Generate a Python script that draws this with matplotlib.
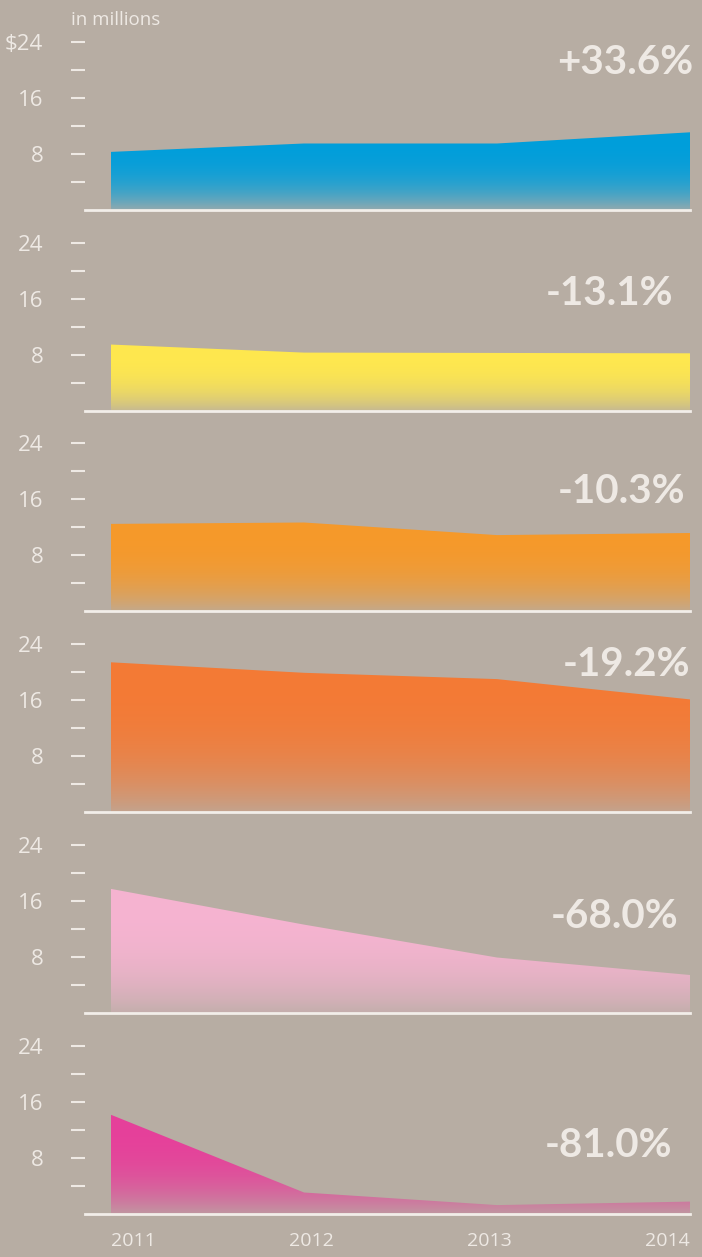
import numpy as np
import matplotlib
matplotlib.use("Agg")
from matplotlib import pyplot as plt
from matplotlib.patches import Polygon
from matplotlib.colors import to_rgb

# data (in millions)
years = [2011, 2012, 2013, 2014]
series_values = [
    [8.3, 9.5, 9.5, 11.1],
    [9.45, 8.3, 8.25, 8.2],
    [12.5, 12.7, 10.9, 11.2],
    [21.4, 19.9, 19.0, 16.1],
    [17.7, 12.6, 7.9, 5.4],
    [14.1, 3.0, 1.2, 1.7],
]
changes = ["+33.6%", "-13.1%", "-10.3%", "-19.2%", "-68.0%", "-81.0%"]
colors = ["#009edb", "#ffe84e", "#f6992a", "#f47a35", "#f6b4d1", "#e6409a"]
ytick_vals = [4, 8, 12, 16, 20, 24]

BG = "#b7ada3"
LIGHT = "#eee9e4"

W, H = 702, 1257
fig = plt.figure(figsize=(W / 100, H / 100), dpi=100, facecolor=BG)

# layout in pixels
left_px, right_px = 85, 690
first_base, step = 210, 200.7
panel_h = 200
ymax = panel_h / 7.0
# where the % labels sit (value, right edge px)
label_y = [21.0, 16.7, 17.1, 21.1, 13.7, 9.7]
label_right = [693, 673, 685, 690, 678, 672]

bg_rgb = np.array(to_rgb(BG))

for i, (vals, col) in enumerate(zip(series_values, colors)):
    base = first_base + i * step
    ax = fig.add_axes([left_px / W, 1 - base / H, (right_px - left_px) / W, panel_h / H])
    ax.patch.set_alpha(0)
    for s in ax.spines.values():
        s.set_visible(False)

    # gradient fill clipped to the area
    vtop = max(vals)
    n = 200
    frac = np.linspace(1, 0, n)  # top row -> bottom row
    t = 0.8 * (1 - frac) ** 3
    c = np.array(to_rgb(col))
    rows = (1 - t)[:, None] * c[None, :] + t[:, None] * bg_rgb[None, :]
    img = np.repeat(rows[:, None, :], 2, axis=1)
    im = ax.imshow(img, extent=[years[0], years[-1], 0, vtop], aspect="auto",
                   interpolation="bilinear", zorder=2)
    verts = [(years[0], 0)] + list(zip(years, vals)) + [(years[-1], 0)]
    poly = Polygon(verts, closed=True, facecolor="none", edgecolor="none")
    ax.add_patch(poly)
    im.set_clip_path(poly)
    ax.set_xlim(2011 - 26 / 193.0, 2014)
    ax.set_ylim(0, ymax)

    ax.axhline(0, color="#f2eee9", lw=2, zorder=3, clip_on=False)

    ax.set_xticks([])
    ax.set_yticks(ytick_vals)
    labels = ["", "8", "", "16", "", "24"]
    if i == 0:
        labels[-1] = "$24"
    ax.set_yticklabels(labels, fontsize=16, color=LIGHT, family=["Open Sans", "DejaVu Sans"])
    ax.tick_params(axis="y", direction="out", length=10, width=1.5, color=LIGHT, pad=20)

    ax.annotate(changes[i], xy=(1, label_y[i]), xycoords=("axes fraction", "data"),
                xytext=(label_right[i] - right_px, 0), textcoords="offset pixels",
                ha="right", va="center", fontsize=29, fontweight="bold",
                color=LIGHT, family=["Lato", "DejaVu Sans"])

    if i == len(series_values) - 1:
        offs = [(0, "left"), (7, "center"), (-8, "center"), (0, "right")]
        for yr, (dx, ha) in zip(years, offs):
            ax.annotate(str(yr), xy=(yr, 0), xytext=(dx, -27), textcoords="offset pixels",
                        ha=ha, va="center", fontsize=14, color=LIGHT,
                        family=["Open Sans", "DejaVu Sans"], annotation_clip=False)

fig.text(71 / W, 1 - 20 / H, "in millions", ha="left", va="center", fontsize=13.5,
         color=LIGHT, family=["Open Sans", "DejaVu Sans"])

fig.savefig("out.png", dpi=100, facecolor=BG)
